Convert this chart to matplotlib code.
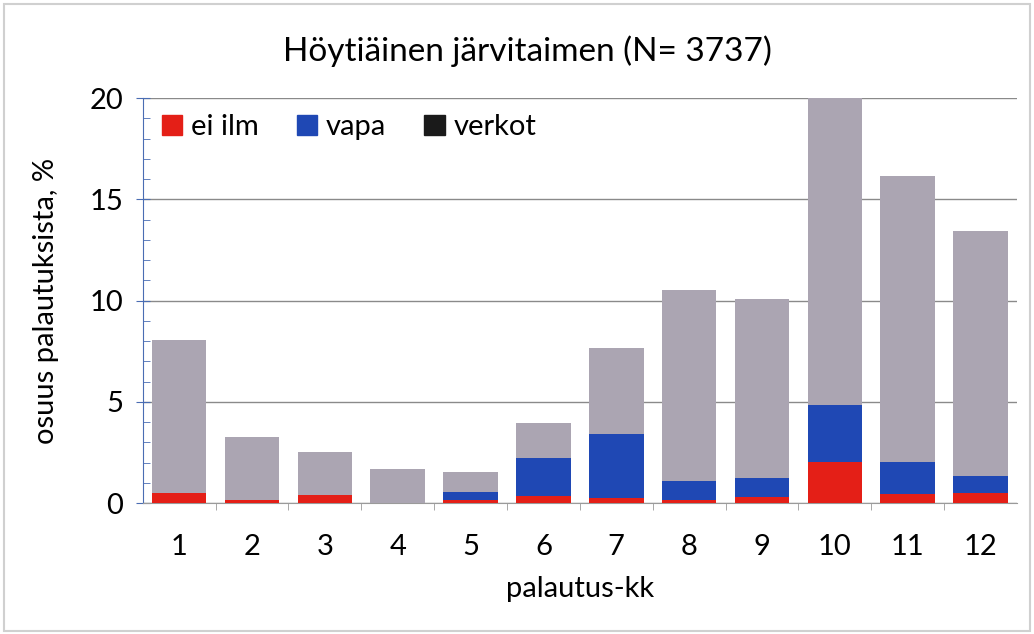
import matplotlib
matplotlib.use("Agg")
import matplotlib.pyplot as plt
from matplotlib.patches import Patch, Rectangle
from matplotlib.ticker import MultipleLocator, FixedLocator
import numpy as np

plt.rcParams['font.family'] = ['Lato', 'DejaVu Sans']

months = ['1', '2', '3', '4', '5', '6', '7', '8', '9', '10', '11', '12']
ei_ilm = [0.5, 0.15, 0.4, 0.0, 0.15, 0.35, 0.25, 0.15, 0.3, 2.05, 0.45, 0.5]
vapa = [0.0, 0.0, 0.0, 0.0, 0.4, 1.87, 3.15, 0.93, 0.93, 2.8, 1.57, 0.83]
total = [8.05, 3.25, 2.52, 1.68, 1.53, 3.95, 7.65, 10.5, 10.07, 20.0, 16.15, 13.43]
verkot = [t - a - b for t, a, b in zip(total, ei_ilm, vapa)]

c_red = '#e41f17'
c_blue = '#1f48b4'
c_grey = '#aba5b2'

fig = plt.figure(figsize=(10.34, 6.34), dpi=100)
ax = fig.add_axes([0.138, 0.2066, 0.8456, 0.6388])

x = np.arange(len(months))
w = 0.75
ax.bar(x, ei_ilm, w, color=c_red, zorder=3)
ax.bar(x, vapa, w, bottom=ei_ilm, color=c_blue, zorder=3)
bot2 = [a + b for a, b in zip(ei_ilm, vapa)]
ax.bar(x, verkot, w, bottom=bot2, color=c_grey, zorder=3)

ax.set_xlim(-0.5, len(months) - 0.5)
ax.set_ylim(0, 20)
ax.yaxis.set_major_locator(MultipleLocator(5))
ax.yaxis.set_minor_locator(MultipleLocator(1))
ax.set_xticks(x)
ax.set_xticklabels(months)
ax.xaxis.set_minor_locator(FixedLocator(np.arange(0.5, len(months) - 0.5, 1)))

ax.grid(axis='y', which='major', color='#8a8a8a', linewidth=1.0, zorder=0)
for s in ['top', 'right']:
    ax.spines[s].set_visible(False)
ax.spines['left'].set_color('#4a6db3')
ax.spines['bottom'].set_color('#9a9a9a')
ax.tick_params(axis='y', which='major', direction='inout', length=10, color='#4a6db3', labelsize=21, pad=9)
ax.tick_params(axis='y', which='minor', direction='in', length=5, color='#4a6db3')
ax.tick_params(axis='x', which='major', length=0, labelsize=21, pad=22)
ax.tick_params(axis='x', which='minor', direction='out', length=5, color='#9a9a9a')

ax.set_ylabel('osuus palautuksista, %', fontsize=21, labelpad=22)
ax.set_xlabel('palautus-kk', fontsize=21, labelpad=12)
fig.text(0.51, 0.92, 'Höytiäinen järvitaimen (N= 3737)', ha='center', va='center', fontsize=24)

handles = [Patch(color=c_red), Patch(color=c_blue), Patch(color='#1a1a1a')]
ax.legend(handles, ['ei ilm', 'vapa', 'verkot'], loc='upper left', ncol=3, frameon=False,
          fontsize=21, handlelength=0.7, handleheight=0.7, handletextpad=0.3, columnspacing=1.3,
          bbox_to_anchor=(-0.008, 1.025))

fig.patches.append(Rectangle((0.004, 0.004), 0.992, 0.99, transform=fig.transFigure,
                             fill=False, edgecolor='#d0d0d0', linewidth=1.5))

fig.savefig('out.png', dpi=100)
